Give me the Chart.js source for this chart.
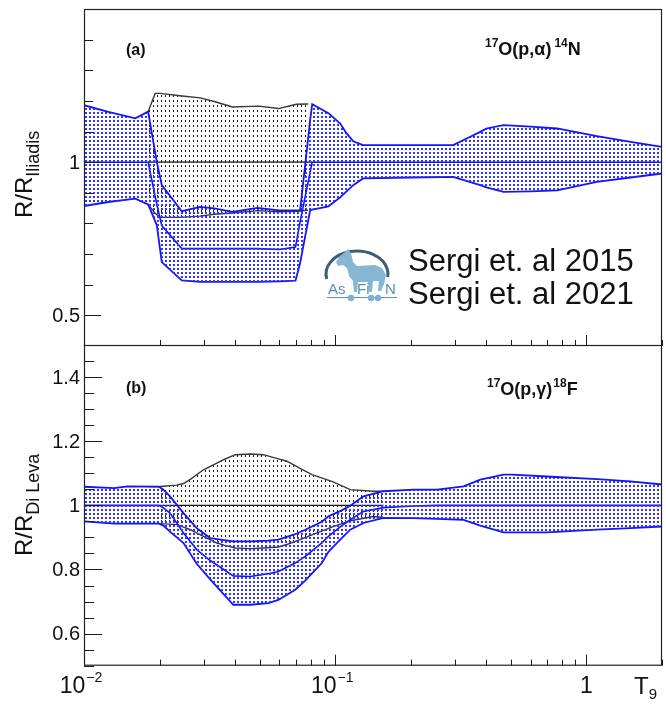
<!DOCTYPE html>
<html>
<head>
<meta charset="utf-8">
<script src="https://cdn.jsdelivr.net/npm/chart.js@4.4.1/dist/chart.umd.min.js"></script>
<style>
  html, body { margin: 0; padding: 0; background: #fff; }
  #wrap { position: relative; width: 666px; height: 704px; overflow: hidden; background: #fff; }
  canvas { position: absolute; left: 0; }
  #cA { top: 0; }
  #cB { top: 345px; }
</style>
</head>
<body>
<div id="wrap">
  <canvas id="cA" width="666" height="346"></canvas>
  <canvas id="cB" width="666" height="359"></canvas>
</div>
<script>
// ---------- Panel (a): 17O(p,alpha)14N, rate ratio to Iliadis ----------
// Sergi et al. 2021 band (blue): temperature grid, upper / central / lower
const tA   = [0.01, 0.0125, 0.016, 0.018, 0.0195, 0.0204, 0.0245, 0.029, 0.033, 0.039, 0.049, 0.06, 0.0695, 0.0725, 0.0795, 0.081, 0.087, 0.094, 0.1047, 0.111, 0.118, 0.129, 0.2, 0.295, 0.345, 0.378, 0.40, 0.468, 0.6, 0.764, 1.1, 1.5, 2.0];
const hiA  = [1.186, 1.164, 1.143, 1.165, 1.0, 0.925, 0.840, 0.854, 0.849, 0.838, 0.851, 0.843, 0.843, 0.843, 1.138, 1.189, 1.175, 1.160, 1.126, 1.094, 1.068, 1.056, 1.056, 1.056, 1.083, 1.099, 1.110, 1.121, 1.116, 1.110, 1.085, 1.066, 1.050];
const midA = [1, 1, 1, 1, 0.862, 0.793, 0.718, 0.718, 0.718, 0.718, 0.718, 0.715, 0.723, 0.805, 0.968, 1, 1, 1, 1, 1, 1, 1, 1, 1, 1, 1, 1, 1, 1, 1, 1, 1, 1];
const loA  = [0.857, 0.870, 0.881, 0.862, 0.794, 0.674, 0.614, 0.609, 0.609, 0.609, 0.609, 0.611, 0.613, 0.671, 0.843, 0.845, 0.850, 0.856, 0.885, 0.905, 0.925, 0.947, 0.950, 0.952, 0.935, 0.925, 0.918, 0.903, 0.905, 0.908, 0.936, 0.950, 0.963];
// Sergi et al. 2015 band (black)
const tKA  = [0.018, 0.0192, 0.0201, 0.0241, 0.029, 0.033, 0.039, 0.0495, 0.0595, 0.07, 0.078];
const hiKA = [1.165, 1.2245, 1.2245, 1.217, 1.21, 1.198, 1.18, 1.183, 1.175, 1.189, 1.19];
const loKA = [0.862, 0.833, 0.820, 0.820, 0.824, 0.830, 0.834, 0.842, 0.838, 0.840, 0.843];
const tKcA = [0.018, 0.081];
const midKA = [1, 1];

// ---------- Panel (b): 17O(p,gamma)18F, rate ratio to Di Leva ----------
const tB   = [0.01, 0.0132, 0.0149, 0.0199, 0.0207, 0.022, 0.0249, 0.0281, 0.0318, 0.0393, 0.0459, 0.0542, 0.0594, 0.0693, 0.076, 0.0885, 0.094, 0.1047, 0.1148, 0.1296, 0.1557, 0.2051, 0.2542, 0.3245, 0.3782, 0.4683, 0.5058, 0.6972, 1.103, 1.497, 2.0];
const hiB  = [1.058, 1.054, 1.059, 1.058, 1.049, 1.028, 0.976, 0.929, 0.898, 0.8875, 0.8875, 0.890, 0.893, 0.910, 0.924, 0.949, 0.966, 0.982, 0.999, 1.028, 1.044, 1.049, 1.049, 1.059, 1.080, 1.096, 1.096, 1.090, 1.082, 1.075, 1.065];
const midB = [1, 1, 1, 1, 0.992, 0.976, 0.914, 0.862, 0.828, 0.780, 0.778, 0.787, 0.794, 0.820, 0.841, 0.883, 0.903, 0.933, 0.955, 0.981, 0.993, 0.998, 1, 1, 1, 1, 1, 1, 1, 1, 1];
const loB  = [0.950, 0.943, 0.943, 0.943, 0.937, 0.918, 0.8825, 0.818, 0.769, 0.690, 0.690, 0.695, 0.705, 0.737, 0.765, 0.820, 0.855, 0.893, 0.924, 0.945, 0.961, 0.960, 0.958, 0.955, 0.937, 0.916, 0.916, 0.916, 0.924, 0.929, 0.934];
const tKB  = [0.0201, 0.0234, 0.0249, 0.0265, 0.0299, 0.0338, 0.0361, 0.04, 0.0459, 0.0518, 0.0594, 0.0642, 0.0725, 0.0808, 0.097, 0.1148, 0.1421, 0.1557];
const hiKB = [1.059, 1.063, 1.068, 1.081, 1.111, 1.132, 1.143, 1.158, 1.160, 1.158, 1.145, 1.1375, 1.115, 1.096, 1.075, 1.049, 1.044, 1.044];
const loKB = [0.943, 0.940, 0.932, 0.924, 0.903, 0.8825, 0.876, 0.867, 0.865, 0.867, 0.870, 0.878, 0.893, 0.908, 0.932, 0.952, 0.965, 0.962];
const tKcB = [0.0201, 0.1557];
const midKB = [1, 1];

// ---------- axis labels ----------
const yLabelsA = ['0.5', '1'];
const yLabelsB = ['0.6', '0.8', '1', '1.2', '1.4'];
const xLabelVals = [0.01, 0.1, 1];
const xLabelBase = ['10', '10', '1'];
const xLabelExp  = ['\u22122', '\u22121', ''];
const legendLines = ['Sergi et. al 2015', 'Sergi et. al 2021'];

const FONT = "'Liberation Sans', Arial, Helvetica, sans-serif";
const BLUE = '#1414f5';
const DARK = '#383838';

function pts(t, v) { return t.map((x, i) => ({ x: x, y: v[i] })); }

// dotted fill: short vertical dashes on a small repeating tile
function hatch(canvasId, color, tw, th, w, h) {
  const tile = document.createElement('canvas');
  tile.width = tw; tile.height = th;
  const g = tile.getContext('2d');
  g.fillStyle = color;
  g.fillRect(1, 0, w, h);
  return document.getElementById(canvasId).getContext('2d').createPattern(tile, 'repeat');
}

function curve(t, v, color, width, extra) {
  return Object.assign({
    data: pts(t, v), borderColor: color, borderWidth: width,
    pointRadius: 0, fill: false, tension: 0
  }, extra || {});
}

// draws a run of text pieces [text, size, weight, dy, dx]
function rich(ctx, parts, x, y, color) {
  let cx = x;
  ctx.fillStyle = color;
  ctx.textBaseline = 'alphabetic';
  ctx.textAlign = 'left';
  for (const p of parts) {
    const [s, size, weight, dy, dx] = p;
    cx += dx || 0;
    ctx.font = weight + ' ' + size + 'px ' + FONT;
    ctx.fillText(s, cx, y + (dy || 0));
    cx += ctx.measureText(s).width;
  }
  return cx - x;
}
function richWidth(ctx, parts) {
  let w = 0;
  for (const p of parts) {
    const [s, size, weight, dy, dx] = p;
    ctx.font = weight + ' ' + size + 'px ' + FONT;
    w += ctx.measureText(s).width + (dx || 0);
  }
  return w;
}

function drawLogo(ctx) {
  ctx.save();
  ctx.strokeStyle = '#3c5f74';
  ctx.lineWidth = 3;
  ctx.beginPath();
  ctx.ellipse(357, 274, 31, 23, 0, Math.PI * 0.93, Math.PI * 2.04);
  ctx.stroke();
  ctx.fillStyle = '#86b6d2';
  ctx.beginPath();
  ctx.moveTo(336, 262); ctx.lineTo(340, 256); ctx.lineTo(345, 252); ctx.lineTo(348, 249);
  ctx.lineTo(351, 253); ctx.lineTo(353, 262); ctx.lineTo(357, 266); ctx.lineTo(375, 265);
  ctx.lineTo(382, 268); ctx.lineTo(386, 275); ctx.lineTo(384, 284); ctx.lineTo(381, 291);
  ctx.lineTo(378, 291); ctx.lineTo(379, 281); ctx.lineTo(373, 281); ctx.lineTo(372, 292);
  ctx.lineTo(369, 292); ctx.lineTo(368, 282); ctx.lineTo(358, 282); ctx.lineTo(357, 292);
  ctx.lineTo(354, 292); ctx.lineTo(353, 281); ctx.lineTo(349, 276); ctx.lineTo(347, 268);
  ctx.lineTo(343, 265); ctx.lineTo(338, 266);
  ctx.closePath();
  ctx.fill();
  ctx.fillStyle = '#5b8fb1';
  ctx.font = '15px ' + FONT;
  ctx.fillText('As', 328, 294);
  ctx.fillText('Fi', 357, 294);
  ctx.fillText('N', 385, 294);
  ctx.strokeStyle = '#5b8fb1';
  ctx.lineWidth = 1;
  ctx.beginPath(); ctx.moveTo(327, 297.5); ctx.lineTo(397, 297.5); ctx.stroke();
  ctx.fillStyle = '#7fb0cf';
  for (const cx of [351, 371, 378]) {
    ctx.beginPath(); ctx.arc(cx, 298, 3.2, 0, Math.PI * 2); ctx.fill();
  }
  ctx.restore();
}

function fmt(v) { return String(Number(Number(v).toFixed(2))); }

// frame, inward ticks, tick labels, titles and annotations
const decor = {
  id: 'decor',
  afterDraw(chart, args, o) {
    const ctx = chart.ctx, a = chart.chartArea;
    const xs = chart.scales.x, ys = chart.scales.y;
    ctx.save();
    ctx.strokeStyle = '#1a1a1a';
    ctx.lineWidth = 1;
    // y ticks and labels from the scale's own ticks
    ys.ticks.forEach((t, i) => {
      const py = ys.getPixelForTick(i);
      const lab = fmt(t.value);
      const major = o.yLabels.includes(lab);
      const len = major ? o.yMajor : o.yMinor;
      const yy = Math.round(py) + 0.5;
      ctx.beginPath(); ctx.moveTo(a.left, yy); ctx.lineTo(a.left + len, yy); ctx.stroke();
      if (major) {
        ctx.font = '20px ' + FONT;
        ctx.fillStyle = '#111';
        ctx.textAlign = 'right';
        ctx.textBaseline = 'middle';
        ctx.fillText(lab, a.left - 4, py + 1);
      }
    });
    // x ticks: 1..9 per decade on the log axis
    for (let e = -2; e <= 0; e++) {
      for (let k = 1; k <= 9; k++) {
        const v = k * Math.pow(10, e);
        if (v < xs.min * 0.999 || v > xs.max * 1.001) continue;
        const px = Math.round(xs.getPixelForValue(v)) + 0.5;
        const len = k === 1 ? o.xMajor : o.xMinor;
        ctx.beginPath(); ctx.moveTo(px, a.bottom); ctx.lineTo(px, a.bottom - len); ctx.stroke();
      }
    }
    // frame
    ctx.strokeStyle = '#222';
    ctx.lineWidth = 1.2;
    ctx.strokeRect(a.left + 0.5, a.top + 0.5, a.right - a.left - 1, a.bottom - a.top - 1);

    // rotated y title with subscript
    ctx.save();
    ctx.translate(o.yTitle.x, o.yTitle.y);
    ctx.rotate(-Math.PI / 2);
    rich(ctx, o.yTitle.parts, 0, 0, '#111');
    ctx.restore();

    for (const t of o.texts) rich(ctx, t.parts, t.x, t.y, t.color || '#111');

    if (o.xLabels) {
      xLabelVals.forEach((v, i) => {
        const parts = [[xLabelBase[i], 23, 'normal', 0]];
        if (xLabelExp[i]) parts.push([xLabelExp[i], 14, 'normal', -11, 1]);
        const w = richWidth(ctx, parts);
        const px = xs.getPixelForValue(v);
        rich(ctx, parts, px - w / 2 - (xLabelExp[i] ? 3 : 0), o.xLabelY, '#111');
      });
    }
    if (o.logo) drawLogo(ctx);
    ctx.restore();
  }
};

function panel(id, sets, yMin, yMax, step, pad, decorOpts) {
  return new Chart(document.getElementById(id), {
    type: 'line',
    data: { datasets: sets },
    options: {
      responsive: false,
      animation: false,
      devicePixelRatio: 1,
      layout: { padding: pad },
      plugins: { legend: { display: false }, tooltip: { enabled: false }, decor: decorOpts },
      scales: {
        x: { type: 'logarithmic', min: 0.01, max: 2, display: false },
        y: {
          type: 'linear', min: yMin, max: yMax, position: 'left',
          afterFit(s) { s.width = 84; },
          grid: { display: false, drawTicks: false },
          border: { display: false },
          ticks: { stepSize: step, autoSkip: false, display: false }
        }
      }
    },
    plugins: [decor]
  });
}

// ---------- top panel ----------
const blueA = hatch('cA', '#3434ff', 4, 4, 2, 2);
const blackA = hatch('cA', '#1a1a1a', 4, 5, 1, 2);
panel('cA', [
  curve(tA, hiA, BLUE, 1.8, { fill: 2, backgroundColor: blueA }),
  curve(tA, midA, BLUE, 1.6),
  curve(tA, loA, BLUE, 1.8),
  curve(tKA, hiKA, DARK, 1.4, { fill: 5, backgroundColor: blackA }),
  curve(tKcA, midKA, '#111', 1.3),
  curve(tKA, loKA, DARK, 1.4)
], 0.4, 1.5, 0.1, { left: 0, right: 4, top: 9, bottom: 0 }, {
  yLabels: yLabelsA, yMajor: 17, yMinor: 9, xMajor: 11, xMinor: 6,
  yTitle: { x: 32, y: 218, parts: [['R/R', 24, 'normal', 0], ['Iliadis', 18, 'normal', 7]] },
  texts: [
    { x: 126, y: 55, parts: [['(a)', 16, 'bold', 0]] },
    { x: 485, y: 55, parts: [['17', 12, 'bold', -8], ['O(p,\u03b1)', 18, 'bold', 0], ['14', 12, 'bold', -8, 3], ['N', 18, 'bold', 0]] },
    { x: 408, y: 271, parts: [[legendLines[0], 31, 'normal', 0]] },
    { x: 408, y: 304, parts: [[legendLines[1], 31, 'normal', 0]] }
  ],
  logo: true
});

// ---------- bottom panel ----------
const blueB = hatch('cB', '#3434ff', 4, 4, 2, 2);
const blackB = hatch('cB', '#1a1a1a', 4, 5, 1, 2);
panel('cB', [
  curve(tB, hiB, BLUE, 1.8, { fill: 2, backgroundColor: blueB }),
  curve(tB, midB, BLUE, 1.6),
  curve(tB, loB, BLUE, 1.8),
  curve(tKB, hiKB, DARK, 1.4, { fill: 5, backgroundColor: blackB }),
  curve(tKcB, midKB, '#111', 1.3),
  curve(tKB, loKB, DARK, 1.4)
], 0.5, 1.5, 0.05, { left: 0, right: 4, top: 0, bottom: 38.3 }, {
  yLabels: yLabelsB, yMajor: 18, yMinor: 10, xMajor: 11, xMinor: 6,
  yTitle: { x: 32, y: 211, parts: [['R/R', 24, 'normal', 0], ['Di Leva', 18, 'normal', 7]] },
  texts: [
    { x: 126, y: 48, parts: [['(b)', 16, 'bold', 0]] },
    { x: 487, y: 50, parts: [['17', 12, 'bold', -8], ['O(p,\u03b3)', 18, 'bold', 0], ['18', 12, 'bold', -8, 1], ['F', 18, 'bold', 0]] },
    { x: 634, y: 349, parts: [['T', 24, 'normal', 0], ['9', 15, 'normal', 5]] }
  ],
  xLabels: true,
  xLabelY: 348
});
</script>
</body>
</html>
